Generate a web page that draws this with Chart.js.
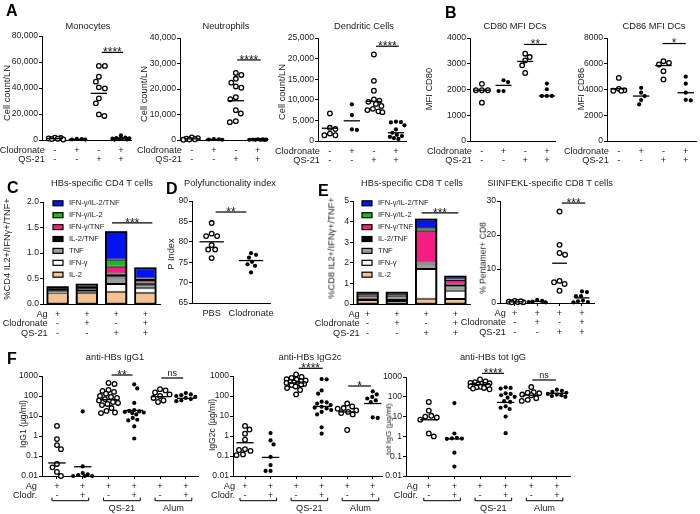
<!DOCTYPE html>
<html><head><meta charset="utf-8">
<script src="https://cdn.jsdelivr.net/npm/chart.js@4.4.1/dist/chart.umd.min.js"></script>
<style>
html,body{margin:0;padding:0;background:#fff}
body{position:relative;width:700px;height:514px;overflow:hidden;font-family:"Liberation Sans",Arial,sans-serif;color:#1a1a1a}
canvas{position:absolute}
.tt{position:absolute;font-size:9.3px;line-height:1;white-space:nowrap;transform:translate(-50%,-50%)}
.yt{position:absolute;font-size:9.3px;line-height:1;white-space:nowrap;transform:translate(-50%,-50%) rotate(-90deg)}
.ys{font-size:8.6px}
.yx{font-size:8px}
.pl{position:absolute;font-size:16px;font-weight:bold;line-height:1;color:#000}
</style></head><body>
<script>
const FONT = '"Liberation Sans", Arial, sans-serif';
Chart.defaults.font.family = FONT;
Chart.defaults.color = '#1a1a1a';

// ================= DATA =================
const rowAg4 = ['+','+','+','+'];
const rowClod4 = ['-','+','-','+'];
const rowQS4 = ['-','-','+','+'];
const rowNamesAB = ['Clodronate','QS-21'];
const rowNamesCE = ['Ag','Clodronate','QS-21'];
const rowAg6 = ['+','+','+','+','+','+'];
const rowClod6 = ['-','+','-','+','-','+'];
const rowNamesF = ['Ag','Clodr.'];
const adjuvantF = ['', 'QS-21', 'Alum'];
const dCats = ['PBS','Clodronate'];
const barCats = ['Ag','Ag+Clod','Ag+QS-21','Ag+QS-21+Clod'];

// A - Monocytes
const monoPbs = [1800, 1500, 1200, 1000, 700, 400];
const monoClod = [900, 600, 400, 300];
const monoQs = [57000, 57000, 48700, 44900, 40500, 39700, 32000, 28200, 19700, 18500];
const monoQsClod = [3500, 1800, 1500, 1200, 1000, 800, 600, 400, 300];
const monoMean = [1100, 500, 35900, 1500];
// A - Neutrophils
const neuPbs = [1000, 700, 500, 300, 200, 100];
const neuClod = [400, 300, 200, 100];
const neuQs = [26300, 25500, 24000, 22500, 21000, 20500, 16800, 16000, 11700, 10400, 7400, 7000];
const neuQsClod = [300, 250, 200, 150, 100, 80, 50, 30];
const neuMean = [450, 250, 15400, 150];
// A - Dendritic cells
const dcPbs = [6700, 3200, 2900, 1800, 1400, 1400];
const dcClod = [8900, 6300, 2800, 2700];
const dcQs = [21000, 14600, 12200, 10100, 9800, 9500, 9000, 8500, 7800, 7500, 7200, 7000];
const dcQsClod = [4700, 4600, 4500, 3800, 2800, 2000, 1500, 1200, 1000, 700, 500];
const dcMean = [3100, 4900, 9600, 2000];
// B - CD80
const cd80Pbs = [2220, 1970, 1970, 1970, 1490];
const cd80Clod = [2360, 2290, 1940, 1940];
const cd80Qs = [3390, 3260, 3130, 2940, 2640];
const cd80QsClod = [2230, 2010, 1750, 1750, 1750];
const cd80Mean = [1970, 2160, 3090, 1750];
// B - CD86
const cd86Pbs = [4900, 4050, 3950, 3900, 3900];
const cd86Clod = [4130, 3750, 3490, 3180, 2840];
const cd86Qs = [6200, 6070, 5940, 5420, 4780];
const cd86QsClod = [5000, 4450, 3750, 3200, 3150];
const cd86Mean = [4060, 3490, 5860, 3750];
// C - CD4 cytokine combinations (stack bottom -> top)
const cytoLabels = ['IL-2','IFN-γ','TNF','IL-2/TNF','IFN-γ/TNF','IFN-γ/IL-2','IFN-γ/IL-2/TNF'];
const cd4IL2 = [0.22, 0.22, 0.24, 0.22];
const cd4IFNg = [0.01, 0.03, 0.15, 0.09];
const cd4TNF = [0.01, 0.03, 0.13, 0.06];
const cd4IL2TNF = [0.09, 0.08, 0.08, 0.05];
const cd4IFNgTNF = [0.0, 0.01, 0.13, 0.05];
const cd4IFNgIL2 = [0.0, 0.01, 0.14, 0.03];
const cd4Triple = [0.0, 0.0, 0.54, 0.20];
// D - Polyfunctionality index
const piPbs = [84.6, 82.0, 81.4, 81.4, 79.2, 78.1, 78.1, 76.0];
const piClod = [77.2, 76.8, 76.1, 75.1, 74.5, 74.1, 72.5];
const piMean = [80.0, 75.4];
// E - CD8 cytokine combinations
const cd8IL2 = [0.2, 0.15, 0.26, 0.24];
const cd8IFNg = [0.05, 0.05, 1.44, 0.40];
const cd8TNF = [0.15, 0.2, 0.26, 0.22];
const cd8IL2TNF = [0.12, 0.12, 0.06, 0.08];
const cd8IFNgTNF = [0.02, 0.02, 1.53, 0.22];
const cd8IFNgIL2 = [0.0, 0.0, 0.13, 0.03];
const cd8Triple = [0.01, 0.01, 0.42, 0.14];
// E - SIINFEKL pentamer
const pentAg = [0.6, 0.4, 0.3, 0.2, 0.2, 0.5];
const pentClod = [0.9, 0.6, 0.4, 0.3, 0.2];
const pentQs = [26.9, 17.1, 14.7, 14.2, 6.5, 6.1, 5.6, 3.6];
const pentQsClod = [3.4, 3.2, 2.0, 2.0, 0.7, 0.5, 0.3, 0.2];
const pentMean = [0.35, 0.45, 11.7, 1.5];
// F - IgG1
const igg1Pbs = [3.2, 0.7, 0.35, 0.22, 0.04, 0.027, 0.016, 0.01];
const igg1Clod = [17, 0.03, 0.014, 0.012, 0.011, 0.01, 0.01, 0.01];
const igg1Qs = [450, 400, 200, 180, 160, 130, 100, 90, 80, 70, 60, 50, 45, 40, 35, 25, 18, 15, 14];
const igg1QsClod = [380, 240, 45, 20, 18, 17, 16, 15, 14, 12, 8, 6.5, 6, 3, 0.75];
const igg1Alum = [220, 190, 150, 120, 100, 80, 60, 50];
const igg1AlumClod = [140, 120, 110, 100, 90, 80, 70, 60, 55];
const igg1Mean = [0.045, 0.029, 66, 19, 93, 76];
// F - IgG2c
const igg2Pbs = [3.2, 2.1, 1.3, 0.65, 0.22, 0.2, 0.18, 0.12, 0.11];
const igg2Clod = [1.4, 0.6, 0.38, 0.09, 0.035, 0.018, 0.018];
const igg2Qs = [1200, 900, 800, 700, 650, 600, 550, 500, 480, 450, 420, 400, 380, 350, 300, 250, 200, 120];
const igg2QsClod = [700, 680, 190, 130, 52, 48, 42, 35, 29, 26, 24, 20, 16, 12, 2.7, 1.3];
const igg2Alum = [42, 30, 25, 23, 19, 16, 14, 12, 2];
const igg2AlumClod = [170, 120, 90, 75, 60, 50, 8.5, 8];
const igg2Mean = [0.46, 0.085, 450, 30, 16, 42];
// F - total IgG
const totPbs = [55, 20, 11, 10, 9, 7, 1.4, 1.0];
const totClod = [48, 1.4, 0.85, 0.8, 0.78, 0.75, 0.15, 0.03];
const totQs = [750, 600, 550, 500, 480, 450, 420, 400, 380, 360, 340, 320, 300, 280, 260, 240];
const totQsClod = [300, 280, 260, 150, 140, 120, 100, 90, 60, 55, 33, 28, 24, 10, 1.45];
const totAlum = [310, 170, 160, 150, 130, 120, 85, 70, 62];
const totAlumClod = [230, 200, 180, 160, 140, 130, 120, 110, 100];
const totMean = [6.9, 0.75, 420, 52, 120, 150];
const logTicks = [0.01, 0.1, 1, 10, 100, 1000];

// significance annotations (between groups a..b, at value y)
const monoSig = [{a:2.13,b:3.1,y:67400,t:'****'}];
const neuSig = [{a:2.06,b:3.13,y:31400,t:'****'}];
const dcSig = [{a:2.1,b:3.13,y:23000,t:'****'}];
const cd80Sig = [{a:1.95,b:3,y:3750,t:'**'}];
const cd86Sig = [{a:1.95,b:3,y:7570,t:'*'}];
const cd4Sig = [{a:1.86,b:3.24,y:1.59,t:'***'}];
const piSig = [{a:0.1,b:0.88,y:87.3,t:'**'}];
const cd8Sig = [{a:1.85,b:3.1,y:4.42,t:'***'}];
const pentSig = [{a:2.1,b:3.15,y:29.4,t:'***'}];
const igg1Sig = [{a:2.12,b:2.93,y:1120,t:'**'},{a:4.05,b:4.9,y:794,t:'ns'}];
const igg2Sig = [{a:2.1,b:3.04,y:2430,t:'****'},{a:4.04,b:4.93,y:316,t:'*'}];
const totSig = [{a:2.08,b:2.94,y:1530,t:'****'},{a:4.04,b:4.96,y:708,t:'ns'}];

// ================= STYLE =================
const cytoColors = ['#f4c28e','#ffffff','#9c9c9c','#000000','#f51e82','#22b422','#0414f0'];
const WY=56, PT=22, PR=8, HX=40;

// ================= HELPERS =================
function makeCanvas(a){
  const cv=document.createElement('canvas');
  const w=WY+(a.r-a.l)+PR, h=PT+(a.b-a.t)+HX;
  cv.width=w; cv.height=h;
  Object.assign(cv.style,{left:(a.l-WY)+'px',top:(a.t-PT)+'px',width:w+'px',height:h+'px'});
  document.body.appendChild(cv);
  return cv;
}
function yScale(o){
  const s={
    type:o.log?'logarithmic':'linear', min:o.ymin, max:o.ymax, stacked:!!o.stacked,
    afterFit:sc=>{sc.width=WY;},
    ticks:{font:{size:8.6,family:FONT},color:'#1a1a1a',padding:1,callback:o.fmt},
    grid:{display:true,drawOnChartArea:false,drawTicks:true,tickLength:3,color:'#000',lineWidth:1},
    border:{display:true,color:'#000',width:1}
  };
  if(o.log) s.afterBuildTicks=sc=>{sc.ticks=logTicks.map(v=>({value:v}));};
  else s.ticks.stepSize=o.step;
  return s;
}
// beeswarm layout in pixel space, limited width; overlaps allowed when crowded
function swarm(pys,d,maxOff){
  const idx=pys.map((_,i)=>i).sort((a,b)=>pys[a]-pys[b]);
  const placed=[], offs=[]; let flip=1;
  idx.forEach(k=>{
    const y=pys[k]; let chosen=null, best=-1, bestC=0;
    for(let mag=0;mag<=maxOff+1e-6;mag+=0.5){
      const cands=mag===0?[0]:[mag*flip,-mag*flip];
      for(const c of cands){
        let mind=Infinity;
        for(const p of placed){const dd=Math.hypot(p.x-c,p.y-y); if(dd<mind) mind=dd;}
        if(mind>=d){chosen=c;break;}
        if(mind>best){best=mind;bestC=c;}
      }
      if(chosen!==null) break;
    }
    if(chosen===null) chosen=bestC;
    if(chosen!==0) flip=-Math.sign(chosen);
    placed.push({x:chosen,y}); offs[k]=chosen;
  });
  return offs;
}
function annot(o){
  return {id:'annot',afterDraw(chart){
    const c=chart.ctx, xs=chart.scales.x, ys=chart.scales.y, A=chart.chartArea;
    c.save(); c.fillStyle='#1a1a1a'; c.strokeStyle='#000';
    c.font='9.2px '+FONT; c.textBaseline='middle';
    (o.rows||[]).forEach((row,r)=>{
      const y=A.bottom+10+r*9.7;
      c.textAlign='center';
      row.forEach((s,i)=>c.fillText(s,xs.getPixelForValue(i),y));
      const nm=(o.rowNames||[])[r];
      if(nm){c.textAlign='right'; c.fillText(nm,xs.getPixelForValue(0)-(o.rowGap||10),y);}
    });
    if(o.brackets){
      const yb=A.bottom+24.7; c.lineWidth=1;
      o.brackets.forEach((lab,k)=>{
        const x1=xs.getPixelForValue(2*k)-5, x2=xs.getPixelForValue(2*k+1)+6;
        c.beginPath(); c.moveTo(x1,yb-3); c.lineTo(x1,yb); c.lineTo(x2,yb); c.lineTo(x2,yb-3); c.stroke();
        if(lab){c.textAlign='center'; c.fillText(lab,(x1+x2)/2,A.bottom+32.5);}
      });
    }
    (o.sig||[]).forEach(s=>{
      const x1=xs.getPixelForValue(s.a), x2=xs.getPixelForValue(s.b), y=ys.getPixelForValue(s.y);
      c.lineWidth=1.2; c.beginPath(); c.moveTo(x1,y); c.lineTo(x2,y); c.stroke();
      const star=/^\*+$/.test(s.t);
      c.font=(star?'12px ':'9px ')+FONT; c.textAlign='center'; c.textBaseline='alphabetic';
      c.fillText(s.t,(x1+x2)/2, star? y+3.7 : y-2);
    });
    c.restore();
  }};
}
function dotChart(o){
  const cv=makeCanvas(o.area);
  const ds=[{data:o.means.map((m,i)=>({x:i,y:m})),pointStyle:'line',pointRadius:8,pointBorderWidth:1.3,pointBorderColor:'#000',borderColor:'#000',clip:false}];
  o.groups.forEach((vals,gi)=>{
    const op=o.open[gi];
    ds.push({data:vals.map(v=>({x:gi,y:v})),pointStyle:'circle',pointRadius:op?2.3:2.1,pointBorderWidth:op?1.3:0,pointBorderColor:'#000',pointBackgroundColor:op?'#fff':'#000',clip:false});
  });
  const chart=new Chart(cv,{type:'scatter',data:{datasets:ds},options:{
    responsive:false,animation:false,events:[],
    layout:{padding:{top:PT,right:PR,left:0,bottom:0}},
    plugins:{legend:{display:false},tooltip:{enabled:false}},
    scales:{
      x:{type:'linear',min:o.xmin,max:o.xmax,afterFit:sc=>{sc.height=HX;},
         afterBuildTicks:sc=>{sc.ticks=o.groups.map((_,i)=>({value:i}));},
         ticks:{display:false},
         grid:{display:!!o.xticks,drawOnChartArea:false,tickLength:3,color:'#000'},
         border:{display:true,color:'#000',width:1}},
      y:yScale(o)
    }},plugins:[annot(o)]});
  const xs=chart.scales.x, ys=chart.scales.y;
  const unit=xs.getPixelForValue(1)-xs.getPixelForValue(0);
  o.groups.forEach((vals,gi)=>{
    const offs=swarm(vals.map(v=>ys.getPixelForValue(v)),o.open[gi]?5.6:4.8,unit*(o.spread||0.4));
    chart.data.datasets[gi+1].data=vals.map((v,k)=>({x:gi+offs[k]/unit,y:v}));
  });
  chart.data.datasets[0].pointRadius=unit*(o.meanHalf||0.37);
  chart.update('none');
}
function barDeco(o){
  return {id:'barDeco',afterDatasetsDraw(chart){
    const c=chart.ctx, ys=chart.scales.y, A=chart.chartArea, m0=chart.getDatasetMeta(0);
    c.save(); c.strokeStyle='#000'; c.lineWidth=1.8;
    o.cats.forEach((_,i)=>{
      const el=m0.data[i];
      const tot=o.series.reduce((s,arr)=>s+arr[i],0);
      const top=ys.getPixelForValue(tot), bot=ys.getPixelForValue(0);
      c.strokeRect(el.x-el.width/2,top,el.width,bot-top);
    });
    c.font='7.6px '+FONT; c.textBaseline='middle'; c.textAlign='left';
    for(let j=0;j<o.labels.length;j++){
      const k=o.labels.length-1-j;
      const y=A.top+o.legendDy+j*11.9, x=A.left+o.legendDx;
      c.fillStyle=o.colors[k]; c.fillRect(x,y-2.5,10,5);
      c.lineWidth=1.2; c.strokeRect(x,y-2.5,10,5);
      c.fillStyle='#1a1a1a'; c.fillText(o.labels[k],x+16,y);
    }
    c.restore();
  }};
}
function barChart(o){
  const cv=makeCanvas(o.area);
  const ds=o.series.map((vals,k)=>({label:o.labels[k],data:vals,backgroundColor:o.colors[k],borderColor:'#000',borderWidth:1,borderSkipped:false,barPercentage:0.7,categoryPercentage:1}));
  new Chart(cv,{type:'bar',data:{labels:o.cats,datasets:ds},options:{
    responsive:false,animation:false,events:[],
    layout:{padding:{top:PT,right:PR,left:0,bottom:0}},
    plugins:{legend:{display:false},tooltip:{enabled:false}},
    scales:{
      x:{type:'category',stacked:true,offset:true,afterFit:sc=>{sc.height=HX;},ticks:{display:false},grid:{display:false},border:{display:true,color:'#000',width:1}},
      y:yScale(Object.assign({stacked:true},o))
    }},plugins:[barDeco(o),annot(o)]});
}
function addText(cls,txt,x,y){
  const d=document.createElement('div'); d.className=cls; d.textContent=txt;
  d.style.left=x+'px'; d.style.top=y+'px'; document.body.appendChild(d);
}
const fmtK=v=>Number(v).toLocaleString('en-US');
const fmtInt=v=>String(v);
const fmt1=v=>Number(v).toFixed(1);

// ================= CHARTS =================
const openPattern4=[true,false,true,false];
const openPattern6=[true,false,true,false,true,false];

dotChart({area:{l:42,r:133,t:36,b:140},xmin:-0.58,xmax:3.49,ymin:0,ymax:80000,step:20000,fmt:fmtK,
  groups:[monoPbs,monoClod,monoQs,monoQsClod],open:openPattern4,means:monoMean,sig:monoSig,rows:[rowClod4,rowQS4],rowNames:rowNamesAB});
dotChart({area:{l:180,r:267,t:38,b:140},xmin:-0.54,xmax:3.36,ymin:0,ymax:40000,step:10000,fmt:fmtK,
  groups:[neuPbs,neuClod,neuQs,neuQsClod],open:openPattern4,means:neuMean,sig:neuSig,rows:[rowClod4,rowQS4],rowNames:rowNamesAB});
dotChart({area:{l:318,r:408,t:38,b:141},xmin:-0.54,xmax:3.49,ymin:0,ymax:25000,step:5000,fmt:fmtK,
  groups:[dcPbs,dcClod,dcQs,dcQsClod],open:openPattern4,means:dcMean,sig:dcSig,rows:[rowClod4,rowQS4],rowNames:rowNamesAB});
dotChart({area:{l:470,r:557,t:38,b:141},xmin:-0.55,xmax:3.41,ymin:0,ymax:4000,step:1000,fmt:fmtInt,
  groups:[cd80Pbs,cd80Clod,cd80Qs,cd80QsClod],open:openPattern4,means:cd80Mean,sig:cd80Sig,rows:[rowClod4,rowQS4],rowNames:rowNamesAB});
dotChart({area:{l:607,r:698,t:38,b:141},xmin:-0.53,xmax:3.49,ymin:0,ymax:8000,step:2000,fmt:fmtInt,
  groups:[cd86Pbs,cd86Clod,cd86Qs,cd86QsClod],open:openPattern4,means:cd86Mean,sig:cd86Sig,rows:[rowClod4,rowQS4],rowNames:rowNamesAB});

barChart({area:{l:43,r:160,t:202,b:304},ymin:0,ymax:2,step:0.5,fmt:fmt1,cats:barCats,
  series:[cd4IL2,cd4IFNg,cd4TNF,cd4IL2TNF,cd4IFNgTNF,cd4IFNgIL2,cd4Triple],labels:cytoLabels,colors:cytoColors,
  legendDx:10,legendDy:1.3,sig:cd4Sig,rows:[rowAg4,rowClod4,rowQS4],rowNames:rowNamesCE});
dotChart({area:{l:192,r:272,t:201,b:303},xmin:-0.5,xmax:1.5,ymin:65,ymax:90,step:5,fmt:fmtInt,meanHalf:0.31,spread:0.3,
  groups:[piPbs,piClod],open:[true,false],means:piMean,sig:piSig,rows:[dCats],rowNames:['']});
barChart({area:{l:353,r:470,t:201,b:304},ymin:0,ymax:5,step:1,fmt:fmtInt,cats:barCats,
  series:[cd8IL2,cd8IFNg,cd8TNF,cd8IL2TNF,cd8IFNgTNF,cd8IFNgIL2,cd8Triple],labels:cytoLabels,colors:cytoColors,
  legendDx:9,legendDy:2.3,sig:cd8Sig,rows:[rowAg4,rowClod4,rowQS4],rowNames:rowNamesCE,rowGap:8});
dotChart({area:{l:500,r:596,t:201,b:303},xmin:-0.66,xmax:3.57,ymin:0,ymax:30,step:10,fmt:fmtInt,xticks:true,meanHalf:0.33,
  groups:[pentAg,pentClod,pentQs,pentQsClod],open:openPattern4,means:pentMean,sig:pentSig,rows:[rowAg4,rowClod4,rowQS4],rowNames:rowNamesCE,rowGap:9});

dotChart({area:{l:42,r:200,t:376,b:476},xmin:-0.58,xmax:5.5,log:true,ymin:0.01,ymax:1000,fmt:fmtInt,xticks:true,meanHalf:0.34,spread:0.38,
  groups:[igg1Pbs,igg1Clod,igg1Qs,igg1QsClod,igg1Alum,igg1AlumClod],open:openPattern6,means:igg1Mean,sig:igg1Sig,
  rows:[rowAg6,rowClod6],rowNames:rowNamesF,rowGap:20,brackets:adjuvantF});
dotChart({area:{l:233,r:384,t:376,b:476},xmin:-0.47,xmax:5.39,log:true,ymin:0.01,ymax:1000,fmt:fmtInt,xticks:true,meanHalf:0.34,spread:0.38,
  groups:[igg2Pbs,igg2Clod,igg2Qs,igg2QsClod,igg2Alum,igg2AlumClod],open:openPattern6,means:igg2Mean,sig:igg2Sig,
  rows:[rowAg6,rowClod6],rowNames:rowNamesF,rowGap:10,brackets:adjuvantF});
dotChart({area:{l:406,r:572,t:377,b:476},xmin:-0.89,xmax:5.54,log:true,ymin:0.01,ymax:1000,fmt:fmtInt,xticks:true,meanHalf:0.34,spread:0.38,
  groups:[totPbs,totClod,totQs,totQsClod,totAlum,totAlumClod],open:openPattern6,means:totMean,sig:totSig,
  rows:[rowAg6,rowClod6],rowNames:rowNamesF,rowGap:11,brackets:adjuvantF});

// ================= TEXT =================
[['A',6,3],['B',445,5],['C',7,180],['D',166,181],['E',318,183],['F',7,351]].forEach(p=>addText('pl',p[0],p[1],p[2]));
[['Monocytes',88,27],['Neutrophils',226,27],['Dendritic Cells',364,27],['CD80 MFI DCs',515,27],['CD86 MFI DCs',654,27],
 ['HBs-specific CD4 T cells',102,184],['Polyfunctionality index',230,184],['HBs-specific CD8 T cells',412,184],['SIINFEKL-specific CD8 T cells',550,184],
 ['anti-HBs IgG1',115,358],['anti-HBs IgG2c',310,358],['anti-HBs tot IgG',493,358]].forEach(p=>addText('tt',p[0],p[1],p[2]));
[['Cell count/LN',8,93],['Cell count/LN',145,94],['Cell count/LN',283,92],['MFI CD80',430,89],['MFI CD86',582,89],
 ['%CD4 IL2+/IFNγ+/TNF+',8,249],['P Index',172,254],['%CD8 IL2+/IFNγ+/TNF+',332,248]].forEach(p=>addText('yt',p[0],p[1],p[2]));
[['% Pentamer+ CD8',483,258],['IgG1 (µg/ml)',23,424],['IgG2c (µg/ml)',212,425]].forEach(p=>addText('yt ys',p[0],p[1],p[2]));
addText('yt yx','tot IgG (µg/ml)',389,429);
</script>
</body></html>
